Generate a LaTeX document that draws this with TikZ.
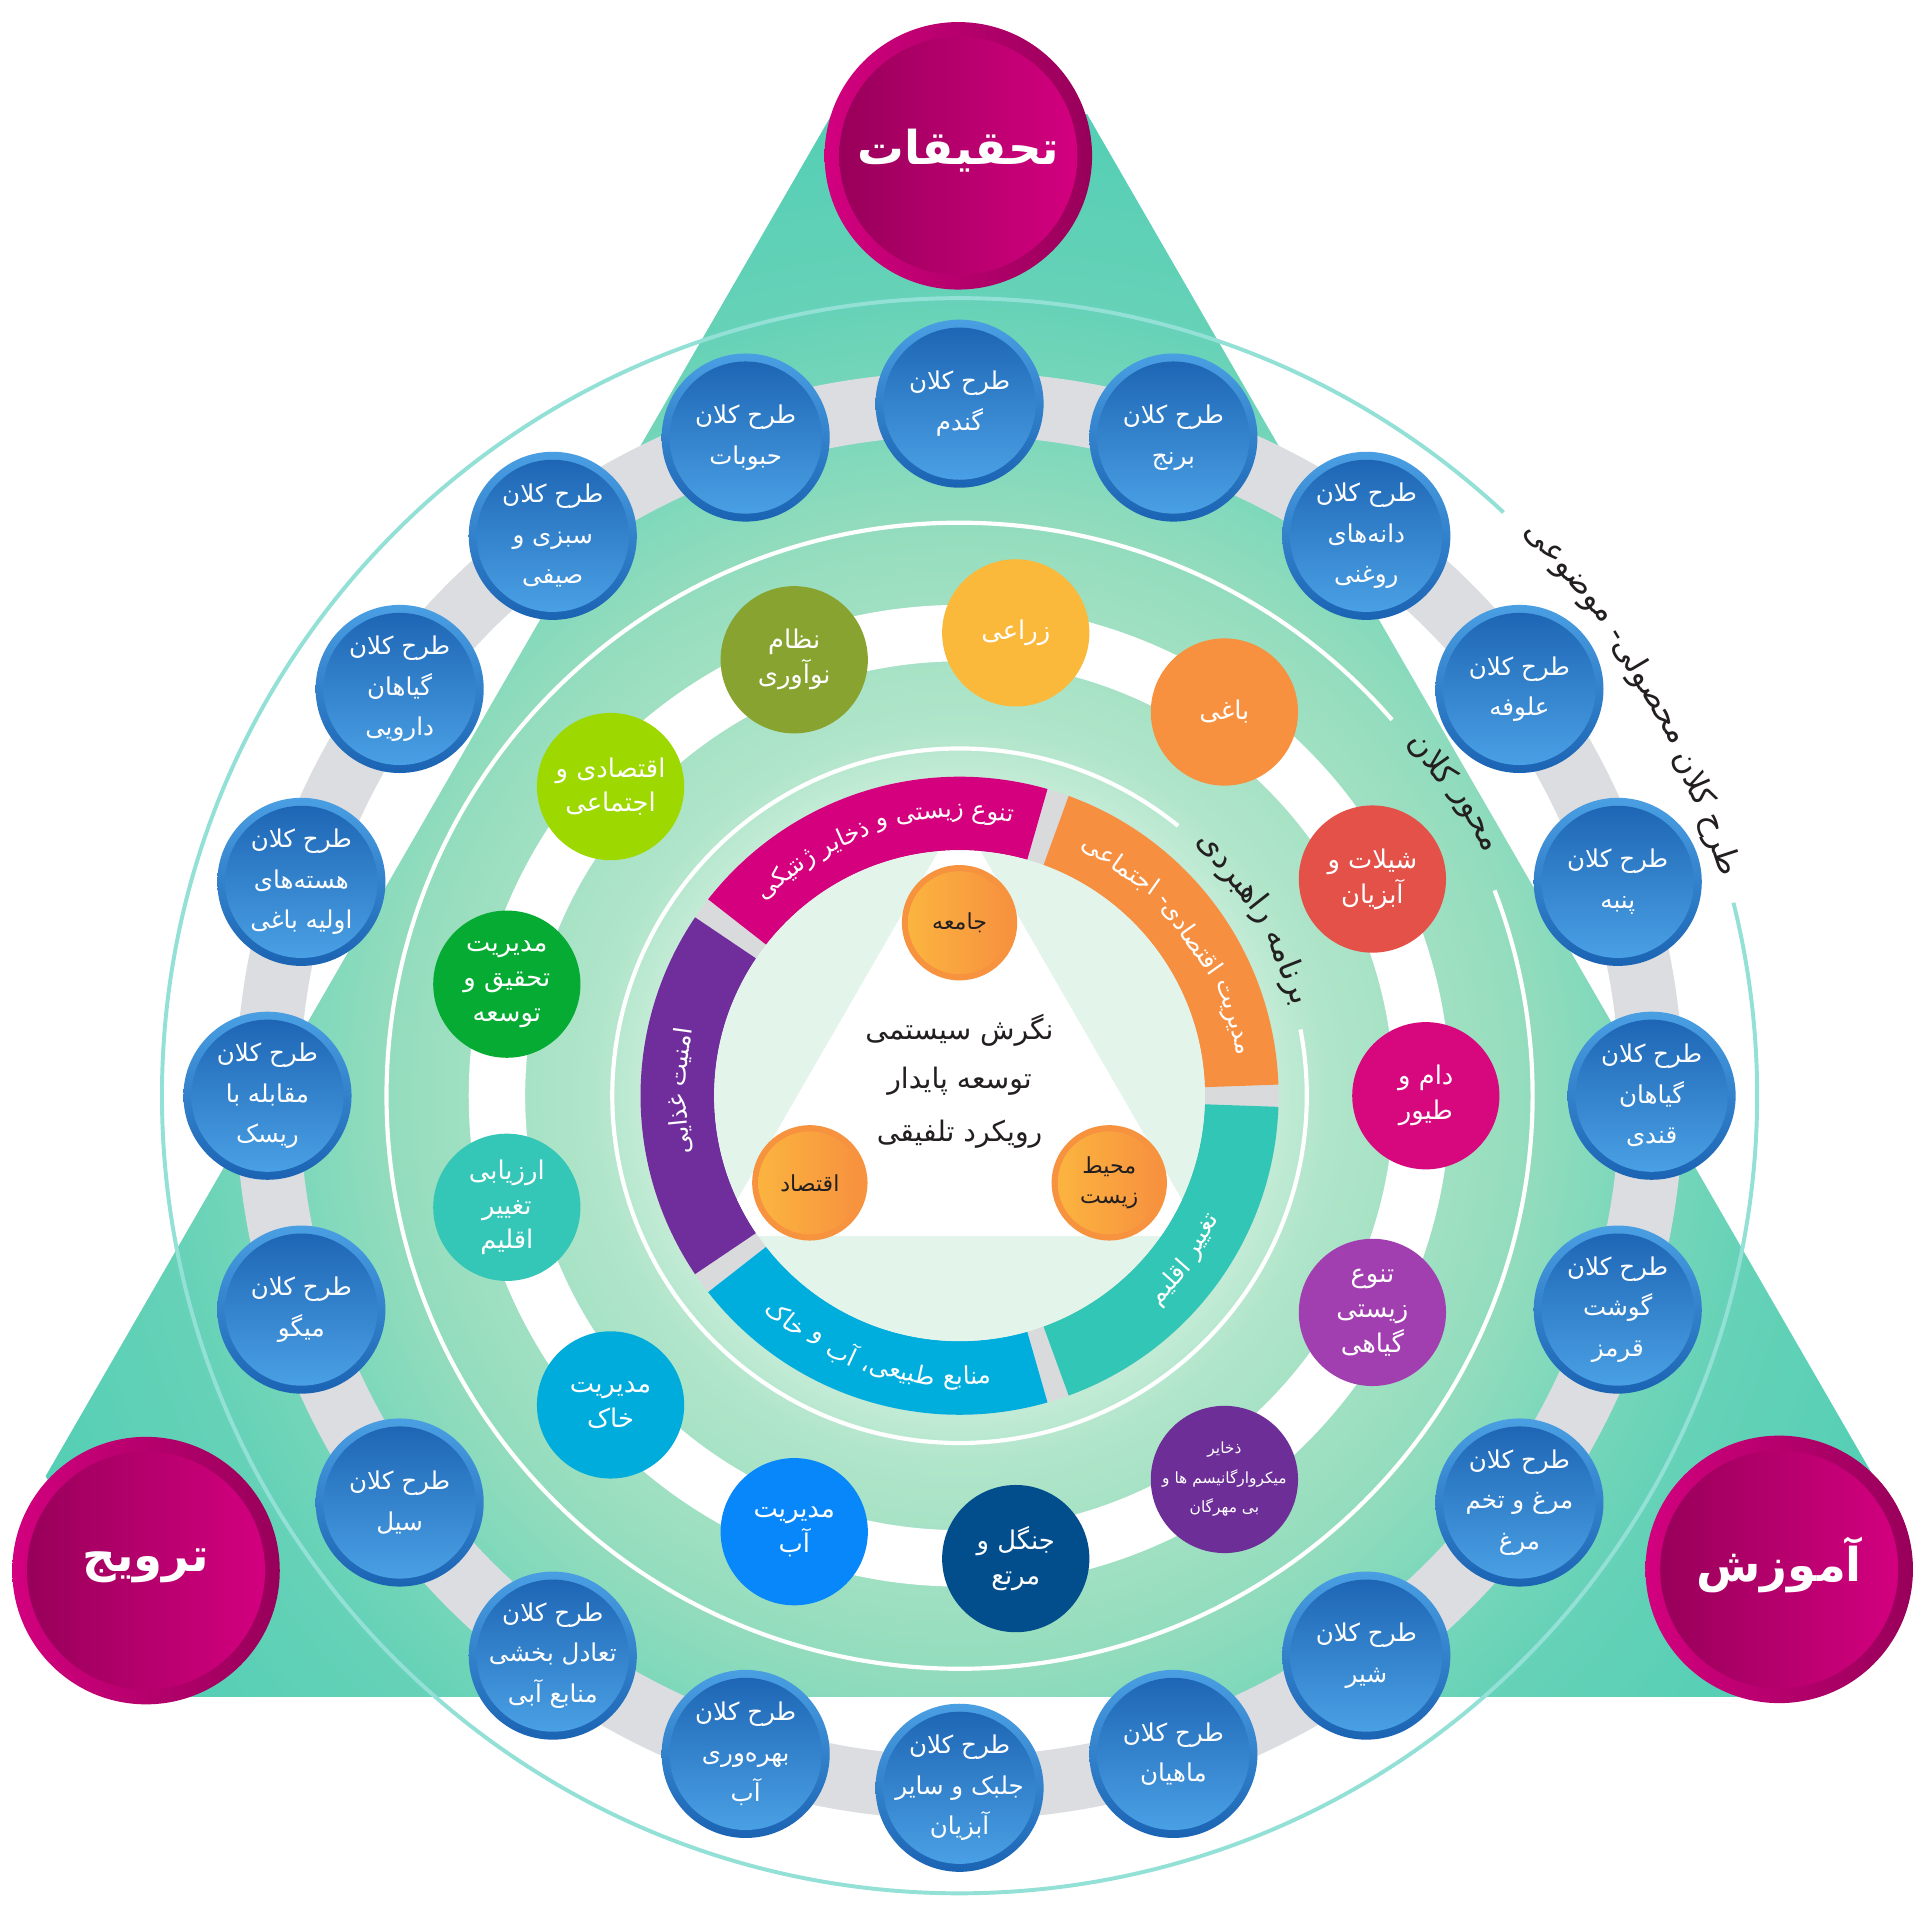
\documentclass[tikz,border=0pt]{standalone}
\usepackage{fontspec}
\TeXXeTstate=1
\newfontfamily\pfont[Script=Arabic]{DejaVu Sans}
\newcommand\ptxt[1]{\beginR #1\endR}
\definecolor{tg0}{HTML}{E8F6EE}
\definecolor{tg1}{HTML}{D2EFDF}
\definecolor{tg1b}{HTML}{C2EBD5}
\definecolor{tg2}{HTML}{B0E5CA}
\definecolor{tg3}{HTML}{A0E0C2}
\definecolor{tg4}{HTML}{92DCBD}
\definecolor{tg5}{HTML}{7ED8BB}
\definecolor{tg6}{HTML}{66D2B7}
\definecolor{tg7}{HTML}{55CFB5}
\definecolor{tg8}{HTML}{40CAB1}
\definecolor{ringgray}{HTML}{DCDDE0}
\definecolor{seggray}{HTML}{D9DADC}
\definecolor{outerline}{HTML}{92E0D6}
\definecolor{discgreen}{HTML}{E3F4EA}
\definecolor{segorange}{HTML}{F78F40}
\definecolor{segmagenta}{HTML}{D4007E}
\definecolor{segpurple}{HTML}{702E9D}
\definecolor{segblue}{HTML}{00AEDD}
\definecolor{segteal}{HTML}{31C6B5}
\definecolor{rimtop}{HTML}{4A9FE3}
\definecolor{rimbot}{HTML}{1B63B3}
\definecolor{intop}{HTML}{1E66B5}
\definecolor{inbot}{HTML}{4AA0E4}
\definecolor{pinkA}{HTML}{D3007F}
\definecolor{pinkB}{HTML}{98005A}
\definecolor{orrim}{HTML}{F7923F}
\definecolor{orA}{HTML}{FBB43F}
\definecolor{orB}{HTML}{F7913F}
\definecolor{darktext}{HTML}{231F20}
\definecolor{cdam}{HTML}{D7087D}
\definecolor{cshil}{HTML}{E35149}
\definecolor{cbagh}{HTML}{F8913F}
\definecolor{czera}{HTML}{FBB93B}
\definecolor{cnezam}{HTML}{89A330}
\definecolor{ceqt}{HTML}{9DD800}
\definecolor{cmodir}{HTML}{05AB33}
\definecolor{carz}{HTML}{34C6B6}
\definecolor{ckhak}{HTML}{00ACDC}
\definecolor{cab}{HTML}{0787F9}
\definecolor{cjang}{HTML}{024D8C}
\definecolor{czakh}{HTML}{6D2E98}
\definecolor{ctanav}{HTML}{A23FB0}
\pgfdeclareradialshading{trishade}{\pgfpoint{0bp}{0bp}}{%
color(0bp)=(tg0); color(5bp)=(tg1); color(6.5bp)=(tg1b); color(7.5bp)=(tg2); color(10bp)=(tg3); color(11.75bp)=(tg4); color(13.5bp)=(tg5); color(16.25bp)=(tg6); color(20bp)=(tg7); color(25bp)=(tg8); color(50bp)=(tg8)}
\tikzset{
 bluetext/.style={text=white, align=center, font=\pfont\fontsize{10}{16.5}\selectfont, inner sep=0pt},
 ctext/.style={text=white, align=center, font=\pfont\fontsize{10.5}{14.2}\selectfont, inner sep=0pt},
 smallctext/.style={text=white, align=center, font=\pfont\fontsize{6.3}{12}\selectfont, inner sep=0pt},
 pinktext/.style={text=white, font=\pfont\bfseries\fontsize{19}{22}\selectfont, inner sep=0pt},
 centertext/.style={text=darktext, font=\pfont\fontsize{11.5}{14}\selectfont, inner sep=0pt},
 ortext/.style={text=darktext, align=center, font=\pfont\fontsize{9}{12.5}\selectfont, inner sep=0pt},
}
\newcommand\segfont{\pfont\fontsize{10}{12}\selectfont}
\newcommand\curvefont{\pfont\fontsize{13}{15}\selectfont}
\newdimen\arcwd
% measure outside the picture: #1 key, #2 radius (units of 0.5pt), #3 centre angle, #4 sign, #5 font, #6 words
\newcommand\arcprep[6]{%
 \gdef\arcTot{0}\gdef\arcN{0}%
 \foreach \w in {#6}{%
   \settowidth\arcwd{#5\w}%
   \pgfmathparse{\arcTot+\the\arcwd}\xdef\arcTot{\pgfmathresult}%
   \pgfmathparse{int(\arcN+1)}\xdef\arcN{\pgfmathresult}%
 }%
 \settowidth\arcwd{#5\ }%
 \pgfmathparse{\the\arcwd}\xdef\arcSp{\pgfmathresult}%
 \pgfmathparse{\arcTot+(\arcN-1)*\arcSp}\xdef\arcTot{\pgfmathresult}%
 \pgfmathparse{#3-(#4)*0.5*\arcTot/(#2*0.5)*57.29578}\xdef\arcStart{\pgfmathresult}%
 \gdef\arcCum{0}%
 \foreach \w [count=\j] in {#6}{%
   \settowidth\arcwd{#5\w}%
   \pgfmathparse{\arcStart+(#4)*(\arcCum+0.5*\the\arcwd)/(#2*0.5)*57.29578}%
   \expandafter\xdef\csname arcphi#1x\j\endcsname{\pgfmathresult}%
   \pgfmathparse{\arcCum+\the\arcwd+\arcSp}\xdef\arcCum{\pgfmathresult}%
 }%
}
% place inside the picture: #1 key, #2 radius, #3 sign, #4 font, #5 colour, #6 words
\newcommand\arcput[6]{%
 \foreach \w [count=\j] in {#6}{%
   \pgfmathsetmacro\arcPhi{\csname arcphi#1x\j\endcsname}%
   \pgfmathsetmacro\arcRot{\arcPhi-(#3)*90}%
   \node[text=#5, font={#4}, inner sep=0pt, rotate=\arcRot] (arc#1\j) at (\arcPhi:#2) {\ptxt{\w}};%
 }%
}
\newcommand\wA{مدیریت,اقتصادی-,اجتماعی}
\newcommand\wB{تنوع,زیستی,و,ذخایر,ژنتیکی}
\newcommand\wC{امنیت,غذایی}
\newcommand\wD{منابع,طبیعی،,آب,و,خاک}
\newcommand\wE{تغییر,اقلیم}
\newcommand\wF{طرح,کلان,محصولی-,موضوعی}
\newcommand\wG{محور,کلان}
\newcommand\wH{برنامه,راهبردی}
\begin{document}
\arcprep{a}{229}{36}{1}{\segfont}{مدیریت,اقتصادی-,اجتماعی}%
\arcprep{b}{229}{107}{1}{\segfont}{تنوع,زیستی,و,ذخایر,ژنتیکی}%
\arcprep{c}{229}{179}{1}{\segfont}{امنیت,غذایی}%
\arcprep{d}{230}{252}{-1}{\segfont}{منابع,طبیعی،,آب,و,خاک}%
\arcprep{e}{230}{324}{-1}{\segfont}{تغییر,اقلیم}%
\arcprep{f}{652}{30.5}{1}{\curvefont}{طرح,کلان,محصولی-,موضوعی}%
\arcprep{g}{473}{31.5}{1}{\curvefont}{محور,کلان}%
\arcprep{h}{287}{31}{1}{\curvefont}{برنامه,راهبردی}%
\begin{tikzpicture}[x=0.5pt,y=0.5pt]
\path[use as bounding box] (0,0) rectangle (1568,1568);
\fill[white] (0,0) rectangle (1568,1568);
\begin{scope}
\clip (0,0) rectangle (1568,1568);
\begin{scope}[shift={(782,675)}]
 \begin{scope}
  \clip (90:980) -- (210:980) -- (330:980) -- cycle;
  \clip (30:1600) -- (150:1600) -- (270:1600) -- cycle;
  \shade[shading=trishade] (0,0) circle (1000);
 \end{scope}
 % outer thin circle with gap
 \draw[outerline, line width=1.6pt] (47:650) arc[start angle=47, end angle=374, radius=650];
 % gray ring
 \draw[ringgray, line width=26pt] (0,0) circle (564);
 % thin white circles and white band
 \draw[white, line width=1.7pt] (41:467) arc[start angle=41, end angle=381, radius=467];
 \draw[white, line width=23pt] (0,0) circle (377);
 \draw[white, line width=1.7pt] (51:283) arc[start angle=51, end angle=371, radius=283];
 % inner segmented ring
 \fill[seggray] (0,0) circle (260);
 \foreach \a/\c in {0/segorange,72/segmagenta,144/segpurple,216/segblue,288/segteal}{
  \pgfmathsetmacro\sa{\a+2}
  \pgfmathsetmacro\ea{\a+70}
  \fill[\c] (\sa:200) arc[start angle=\sa, end angle=\ea, radius=200] -- (\ea:260) arc[start angle=\ea, end angle=\sa, radius=260] -- cycle;
 }
 \fill[discgreen] (0,0) circle (200);
 \begin{scope}
  \clip (0,0) circle (200);
  \fill[white] (90:229) -- (210:229) -- (330:229) -- cycle;
 \end{scope}
 % orange circles
 \foreach \n/\p/\t in {oj/{(0,141)}/{\ptxt{جامعه}}, oe/{(-122,-71)}/{\ptxt{اقتصاد}}, om/{(122,-71)}/{\ptxt{محیط}\\\ptxt{زیست}}}{
  \fill[orrim] \p circle (47);
  \shade[left color=orA, right color=orB] \p circle (42);
  \node[ortext] (\n) at \p {\t};
 }
 % center text
 \node[centertext] (t1) at (0,53) {\ptxt{نگرش سیستمی}};
 \node[centertext] (t2) at (0,12) {\ptxt{توسعه پایدار}};
 \node[centertext] (t3) at (0,-31) {\ptxt{رویکرد تلفیقی}};
 % segment labels
 \arcput{a}{229}{1}{\segfont}{white}{مدیریت,اقتصادی-,اجتماعی}
 \arcput{b}{229}{1}{\segfont}{white}{تنوع,زیستی,و,ذخایر,ژنتیکی}
 \arcput{c}{229}{1}{\segfont}{white}{امنیت,غذایی}
 \arcput{d}{230}{-1}{\segfont}{white}{منابع,طبیعی،,آب,و,خاک}
 \arcput{e}{230}{-1}{\segfont}{white}{تغییر,اقلیم}
 % curved outer labels
 \arcput{f}{652}{1}{\curvefont}{darktext}{طرح,کلان,محصولی-,موضوعی}
 \arcput{g}{473}{1}{\curvefont}{darktext}{محور,کلان}
 \arcput{h}{287}{1}{\curvefont}{darktext}{برنامه,راهبردی}
 % colored circles on white band
 \foreach \k/\c/\t in {
  0/cdam/{\ptxt{دام و}\\\ptxt{طیور}},
  1/cshil/{\ptxt{شیلات و}\\\ptxt{آبزیان}},
  2/cbagh/{\ptxt{باغی}},
  3/czera/{\ptxt{زراعی}},
  4/cnezam/{\ptxt{نظام}\\\ptxt{نوآوری}},
  5/ceqt/{\ptxt{اقتصادی و}\\\ptxt{اجتماعی}},
  6/cmodir/{\ptxt{مدیریت}\\\ptxt{تحقیق و}\\\ptxt{توسعه}},
  7/carz/{\ptxt{ارزیابی}\\\ptxt{تغییر}\\\ptxt{اقلیم}},
  8/ckhak/{\ptxt{مدیریت}\\\ptxt{خاک}},
  9/cab/{\ptxt{مدیریت}\\\ptxt{آب}},
  10/cjang/{\ptxt{جنگل و}\\\ptxt{مرتع}},
  12/ctanav/{\ptxt{تنوع}\\\ptxt{زیستی}\\\ptxt{گیاهی}}}{
  \pgfmathsetmacro\ang{360*\k/13}
  \fill[\c] (\ang:380) circle (60);
  \node[ctext] (c\k) at (\ang:380) {\t};
 }
 \pgfmathsetmacro\angz{360*11/13}
 \fill[czakh] (\angz:380) circle (60);
 \node[smallctext] (c11) at (\angz:380) {\ptxt{ذخایر}\\\ptxt{میکروارگانیسم ها و}\\\ptxt{بی مهرگان}};
 % blue circles on gray ring
 \foreach \i/\t in {
  0/{\ptxt{طرح کلان}\\\ptxt{گندم}},
  1/{\ptxt{طرح کلان}\\\ptxt{برنج}},
  2/{\ptxt{طرح کلان}\\\ptxt{دانه‌های}\\\ptxt{روغنی}},
  3/{\ptxt{طرح کلان}\\\ptxt{علوفه}},
  4/{\ptxt{طرح کلان}\\\ptxt{پنبه}},
  5/{\ptxt{طرح کلان}\\\ptxt{گیاهان}\\\ptxt{قندی}},
  6/{\ptxt{طرح کلان}\\\ptxt{گوشت}\\\ptxt{قرمز}},
  7/{\ptxt{طرح کلان}\\\ptxt{مرغ و تخم}\\\ptxt{مرغ}},
  8/{\ptxt{طرح کلان}\\\ptxt{شیر}},
  9/{\ptxt{طرح کلان}\\\ptxt{ماهیان}},
  10/{\ptxt{طرح کلان}\\\ptxt{جلبک و سایر}\\\ptxt{آبزیان}},
  11/{\ptxt{طرح کلان}\\\ptxt{بهره‌وری}\\\ptxt{آب}},
  12/{\ptxt{طرح کلان}\\\ptxt{تعادل بخشی}\\\ptxt{منابع آبی}},
  13/{\ptxt{طرح کلان}\\\ptxt{سیل}},
  14/{\ptxt{طرح کلان}\\\ptxt{میگو}},
  15/{\ptxt{طرح کلان}\\\ptxt{مقابله با}\\\ptxt{ریسک}},
  16/{\ptxt{طرح کلان}\\\ptxt{هسته‌های}\\\ptxt{اولیه باغی}},
  17/{\ptxt{طرح کلان}\\\ptxt{گیاهان}\\\ptxt{دارویی}},
  18/{\ptxt{طرح کلان}\\\ptxt{سبزی و}\\\ptxt{صیفی}},
  19/{\ptxt{طرح کلان}\\\ptxt{حبوبات}}}{
  \pgfmathsetmacro\ang{90-18*\i}
  \shade[top color=rimtop, bottom color=rimbot] (\ang:564) circle (68.5);
  \shade[top color=intop, bottom color=inbot] (\ang:564) circle (62);
  \node[bluetext] (b\i) at (\ang:564) {\t};
 }
\end{scope}
% pink circles
\foreach \n/\x/\y/\t in {p1/781/1441/{تحقیقات}, p2/119/288/{ترویج}, p3/1450/289/{آموزش}}{
 \shade[left color=pinkA, right color=pinkB] (\x,\y) circle (109);
 \shade[left color=pinkB, right color=pinkA] (\x,\y) circle (97);
 \node[pinktext] (\n) at (\x,\y+4) {\ptxt{\t}};
}
\end{scope}
\end{tikzpicture}
\end{document}
